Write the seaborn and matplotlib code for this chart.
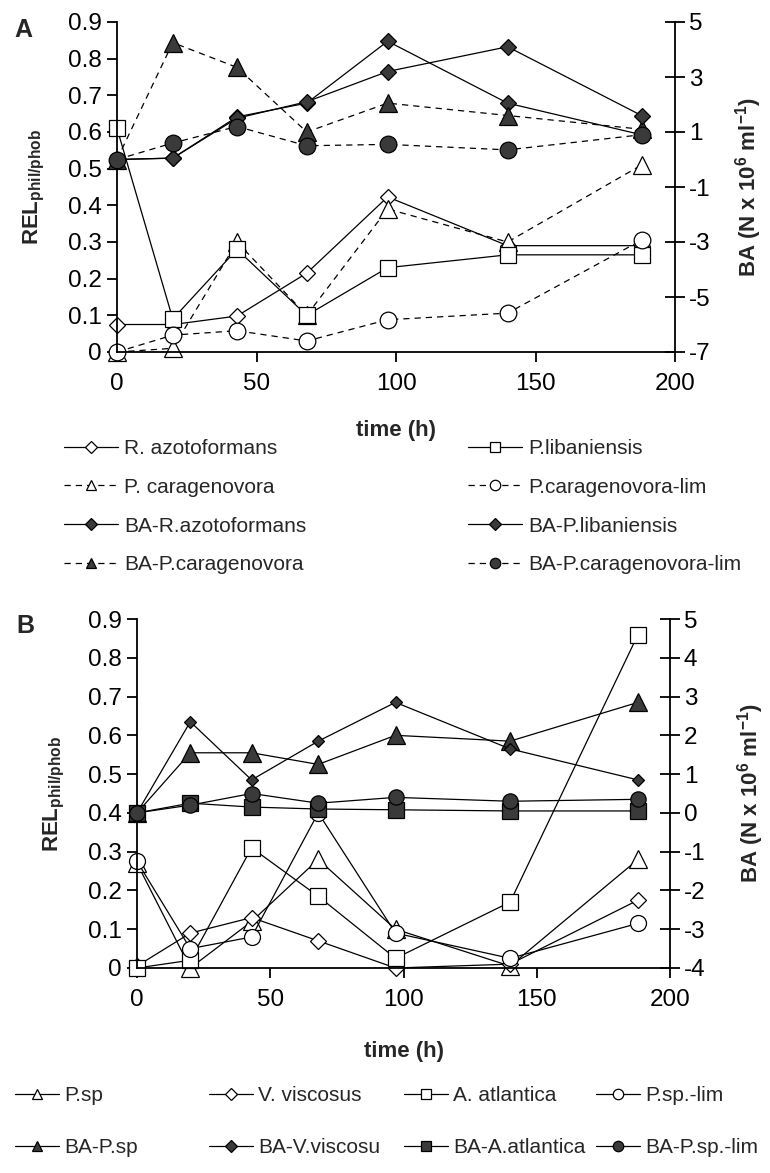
import numpy as np
import matplotlib
matplotlib.use("Agg")
import matplotlib.pyplot as plt
import seaborn as sns
from matplotlib.lines import Line2D
from matplotlib.ticker import FuncFormatter

# sampling times (h)
time_h = [0, 20, 43, 68, 97, 140, 188]

# Panel A: REL phil/phob ratios (left axis)
r_azotoformans = [0.075, 0.075, 0.098, 0.215, 0.423, 0.29, 0.29]
p_caragenovora = [0.0, 0.01, 0.30, 0.10, 0.39, 0.30, 0.51]
p_libaniensis = [0.61, 0.09, 0.28, 0.10, 0.23, 0.265, 0.265]
p_caragenovora_lim = [0.0, 0.046, 0.058, 0.03, 0.088, 0.106, 0.305]

# Panel A: bacterial abundance, N x 10^6 ml^-1 (right axis)
ba_r_azotoformans = [0.0, 0.05, 1.55, 2.05, 4.3, 2.05, 0.9]
ba_p_libaniensis = [0.0, 0.05, 1.5, 2.1, 3.2, 4.1, 1.6]
ba_p_caragenovora = [0.0, 4.25, 3.35, 1.0, 2.05, 1.6, 1.1]
ba_p_caragenovora_lim = [0.0, 0.6, 1.2, 0.5, 0.55, 0.35, 0.9]

# Panel B: REL phil/phob ratios (left axis)
p_sp = [0.27, 0.0, 0.12, 0.28, 0.10, 0.005, 0.28]
v_viscosus = [0.005, 0.09, 0.13, 0.07, 0.0, 0.01, 0.175]
a_atlantica = [0.0, 0.02, 0.31, 0.185, 0.025, 0.17, 0.86]
p_sp_lim = [0.275, 0.05, 0.08, 0.40, 0.09, 0.025, 0.115]

# Panel B: bacterial abundance (right axis)
ba_p_sp = [0.0, 1.55, 1.55, 1.25, 2.0, 1.85, 2.85]
ba_v_viscosu = [0.0, 2.35, 0.85, 1.85, 2.85, 1.65, 0.85]
ba_a_atlantica = [0.0, 0.25, 0.15, 0.1, 0.08, 0.05, 0.05]
ba_p_sp_lim = [0.0, 0.2, 0.5, 0.25, 0.4, 0.3, 0.35]

x_ticks = [0, 50, 100, 150, 200]
rel_ticks = [0.0, 0.1, 0.2, 0.3, 0.4, 0.5, 0.6, 0.7, 0.8, 0.9]
ba_ticks_a = [-7, -5, -3, -1, 1, 3, 5]
ba_ticks_b = [-4, -3, -2, -1, 0, 1, 2, 3, 4, 5]

sns.set_style("ticks")
plt.rcParams["font.family"] = ["Liberation Sans", "DejaVu Sans"]
plt.rcParams["mathtext.fontset"] = "custom"
plt.rcParams["mathtext.rm"] = "Liberation Sans"
plt.rcParams["mathtext.bf"] = "Liberation Sans:bold"
plt.rcParams["mathtext.it"] = "Liberation Sans:italic"
plt.rcParams["axes.edgecolor"] = "black"
plt.rcParams["xtick.color"] = "black"
plt.rcParams["ytick.color"] = "black"
plt.rcParams["axes.unicode_minus"] = False

FILL = "#3a3a3a"
SOLID = "-"
DASHED = (0, (5, 4))
TICK_FS = 17.5
LEG_FS = 15
LAB_FS = 16

W, H = 770, 1173
fig = plt.figure(figsize=(W / 100, H / 100), dpi=100)


def frac_box(left, top, right, bottom):
    return [left / W, 1 - bottom / H, (right - left) / W, (bottom - top) / H]


def draw(ax, values, marker, filled, ms, ls):
    sns.lineplot(x=time_h, y=values, ax=ax, color="black", linewidth=0.9,
                 linestyle=ls, marker=marker, markersize=ms,
                 markerfacecolor=FILL if filled else "white",
                 markeredgecolor="black", markeredgewidth=0.9,
                 clip_on=False, legend=False)


def legend_handle(marker, filled, ms, ls):
    return Line2D([], [], color="black", linewidth=0.9, linestyle=ls,
                  marker=marker, markersize=ms,
                  markerfacecolor=FILL if filled else "white",
                  markeredgecolor="black", markeredgewidth=0.9)


def style_pair(ax, ax2, r_lim, r_ticks):
    ax.set_xlim(0, 200)
    ax.set_ylim(0, 0.9)
    ax.set_xticks(x_ticks)
    ax.set_yticks(rel_ticks)
    ax.yaxis.set_major_formatter(
        FuncFormatter(lambda v, p: "0" if abs(v) < 1e-9 else f"{v:.1f}"))
    ax.spines["top"].set_visible(False)
    ax.spines["right"].set_visible(False)
    for s in ("left", "bottom"):
        ax.spines[s].set_linewidth(1.3)
    ax.tick_params(axis="y", direction="out", length=7, width=1.3,
                   labelsize=TICK_FS, pad=4)
    ax.tick_params(axis="x", direction="out", length=7, width=1.3,
                   labelsize=TICK_FS, pad=8)
    ax2.set_ylim(*r_lim)
    ax2.set_yticks(r_ticks)
    for s in ("top", "left", "bottom"):
        ax2.spines[s].set_visible(False)
    ax2.spines["right"].set_linewidth(1.3)
    ax2.tick_params(direction="inout", length=14, width=1.3,
                    labelsize=TICK_FS, pad=3)
    ax.set_ylabel(r"$\mathbf{REL}_{\mathbf{phil/phob}}$", fontsize=LAB_FS)
    ax2.set_ylabel(r"$\mathbf{BA\ (N\ x\ 10^{6}\ ml^{-1})}$", fontsize=LAB_FS)
    ax.grid(False)
    ax2.grid(False)


# ---------------- Panel A ----------------
axA = fig.add_axes(frac_box(117, 22, 675, 352))
axA2 = axA.twinx()

series_a_left = [
    (r_azotoformans, "R. azotoformans", "D", False, 8.5, SOLID),
    (p_caragenovora, "P. caragenovora", "^", False, 13, DASHED),
    (p_libaniensis, "P.libaniensis", "s", False, 12, SOLID),
    (p_caragenovora_lim, "P.caragenovora-lim", "o", False, 12, DASHED),
]
series_a_right = [
    (ba_r_azotoformans, "BA-R.azotoformans", "D", True, 8.5, SOLID),
    (ba_p_caragenovora, "BA-P.caragenovora", "^", True, 13, DASHED),
    (ba_p_libaniensis, "BA-P.libaniensis", "D", True, 8.5, SOLID),
    (ba_p_caragenovora_lim, "BA-P.caragenovora-lim", "o", True, 12, DASHED),
]
for vals, _, m, f, ms, ls in series_a_left:
    draw(axA, vals, m, f, ms, ls)
for vals, _, m, f, ms, ls in series_a_right:
    draw(axA2, vals, m, f, ms, ls)

style_pair(axA, axA2, (-7, 5), ba_ticks_a)
axA.set_xlabel("time (h)", fontsize=LAB_FS, fontweight="bold", labelpad=18)
axA.yaxis.set_label_coords(-0.126, 0.5)
axA2.yaxis.set_label_coords(1.105, 0.5)
fig.text(23 / W, 1 - 30 / H, "A", fontsize=18, fontweight="bold",
         ha="center", va="center")

# legend of panel A: two columns
order_a1 = [series_a_left[0], series_a_left[1], series_a_right[0], series_a_right[1]]
order_a2 = [series_a_left[2], series_a_left[3], series_a_right[2], series_a_right[3]]
for group, x0 in ((order_a1, 64), (order_a2, 468)):
    handles = [legend_handle(m, f, 7.5 if m != "D" else 6, ls)
               for _, _, m, f, _, ls in group]
    labels = [g[1] for g in group]
    fig.legend(handles, labels, loc="upper left",
               bbox_to_anchor=(x0 / W, 1 - 439 / H), frameon=False,
               fontsize=LEG_FS, handlelength=2.6, handletextpad=0.3,
               labelspacing=0.95, borderpad=0, borderaxespad=0)

# ---------------- Panel B ----------------
axB = fig.add_axes(frac_box(137, 619, 670, 968))
axB2 = axB.twinx()

series_b_left = [
    (p_sp, "P.sp", "^", False, 13, SOLID),
    (v_viscosus, "V. viscosus", "D", False, 8, SOLID),
    (a_atlantica, "A. atlantica", "s", False, 12, SOLID),
    (p_sp_lim, "P.sp.-lim", "o", False, 11.5, SOLID),
]
series_b_right = [
    (ba_p_sp, "BA-P.sp", "^", True, 13, SOLID),
    (ba_v_viscosu, "BA-V.viscosu", "D", True, 6.5, SOLID),
    (ba_a_atlantica, "BA-A.atlantica", "s", True, 11, SOLID),
    (ba_p_sp_lim, "BA-P.sp.-lim", "o", True, 11, SOLID),
]
for vals, _, m, f, ms, ls in series_b_left:
    draw(axB, vals, m, f, ms, ls)
for vals, _, m, f, ms, ls in series_b_right:
    draw(axB2, vals, m, f, ms, ls)

style_pair(axB, axB2, (-4, 5), ba_ticks_b)
axB.set_xlabel("time (h)", fontsize=LAB_FS, fontweight="bold", labelpad=22)
axB.yaxis.set_label_coords(-0.131, 0.5)
axB2.yaxis.set_label_coords(1.122, 0.5)
fig.text(25 / W, 1 - 626 / H, "B", fontsize=18, fontweight="bold",
         ha="center", va="center")

# legend of panel B: four columns, two rows
for (top, bot), x0 in zip(zip(series_b_left, series_b_right), (15, 209, 404, 596)):
    handles = [legend_handle(m, f, 7.5 if m != "D" else 6, ls)
               for _, _, m, f, _, ls in (top, bot)]
    labels = [top[1], bot[1]]
    fig.legend(handles, labels, loc="upper left",
               bbox_to_anchor=(x0 / W, 1 - 1086 / H), frameon=False,
               fontsize=LEG_FS, handlelength=2.1, handletextpad=0.25,
               labelspacing=1.6, borderpad=0, borderaxespad=0)

fig.savefig("out.png", dpi=100)
